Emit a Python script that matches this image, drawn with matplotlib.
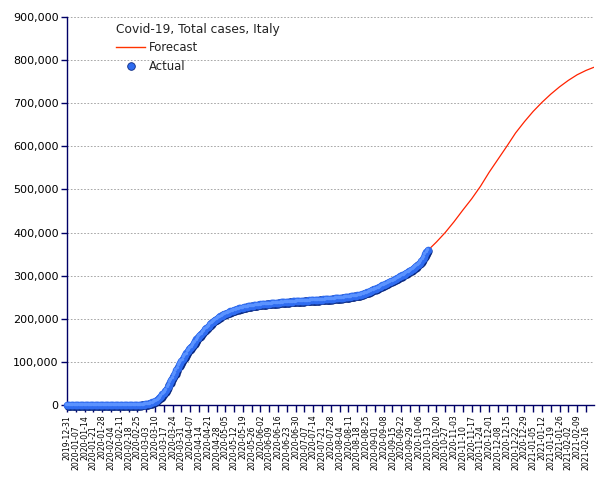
import matplotlib
matplotlib.use("Agg")
import matplotlib.pyplot as plt
import matplotlib.transforms as mtransforms
from matplotlib.lines import Line2D
from matplotlib.ticker import FuncFormatter, FixedLocator
import matplotlib.dates as mdates
import numpy as np
import pandas as pd

# daily cumulative cases, starting 2019-12-31
actual_start = "2019-12-31"
actual_dec_feb = [0, 0, 0, 0, 0, 0, 0, 0, 0, 0, 0, 0, 0, 0, 0, 0, 0, 0, 0, 0, 0, 0, 0, 0, 0, 0, 0, 0, 0, 0, 0,
                  2, 2, 2, 2, 2, 2, 2,
                  3, 3, 3, 3, 3, 3, 3, 3, 3, 3, 3, 3, 3, 3, 3,
                  20, 79, 157, 229, 322, 400, 650, 888]
actual_mar = [1128, 1694, 2036, 2502, 3089, 3858, 4636, 5883, 7375, 9172, 10149, 12462, 15113, 17660, 21157,
              24747, 27980, 31506, 35713, 41035, 47021, 53578, 59138, 63927, 69176, 74386, 80539, 86498,
              92472, 97689, 101739]
actual_apr = [105792, 110574, 115242, 119827, 124632, 128948, 132547, 135586, 139422, 143626, 147577, 152271,
              156363, 159516, 162488, 165155, 168941, 172434, 175925, 178972, 181228, 183957, 187327, 189973,
              192994, 195351, 197675, 199414, 201505, 203591]
actual_may = [205463, 207428, 209328, 210717, 211938, 213013, 214457, 215858, 217185, 218268, 219070, 219814,
              221216, 222104, 223096, 223885, 224760, 225435, 225886, 226699, 227364, 228006, 228658, 229327,
              229858, 230158, 230555, 231139, 231732, 232248, 232664]
actual_jun = [233019, 233197, 233515, 233836, 234013, 234531, 234801, 234998, 235278, 235561, 235763, 236142,
              236305, 236651, 236989, 237290, 237500, 237828, 238159, 238011, 238275, 238499, 238720, 238833,
              239410, 239706, 239961, 240136, 240310, 240436]
actual_jul = [240578, 240760, 240961, 241184, 241419, 241611, 241819, 241956, 242149, 242363, 242639, 242827,
              243061, 243230, 243344, 243506, 243736, 243967, 244216, 244434, 244624, 244752, 245032, 245338,
              245590, 245864, 246118, 246286, 246488, 246776, 247158]
actual_aug = [247537, 247832, 248070, 248229, 248419, 248803, 249204, 249756, 250103, 250566, 250825, 251237,
              251713, 252235, 252809, 253438, 253915, 254235, 254636, 255278, 256118, 257065, 258136, 259345,
              260298, 261174, 262540, 263949, 265409, 267272, 268218]
actual_sep = [269214, 270189, 271515, 272912, 274644, 276338, 277634, 278784, 280153, 281583, 283180, 284796,
              286297, 287753, 288761, 289990, 291442, 293025, 294932, 296569, 298156, 299506, 300897, 302537,
              304323, 306235, 308104, 309870, 311364, 313011]
actual_oct = [314861, 317409, 319908, 322751, 325329, 327586, 330263, 333940, 338398, 343770, 349494, 354950,
              359569]

actual = (actual_dec_feb + actual_mar + actual_apr + actual_may + actual_jun + actual_jul
          + actual_aug + actual_sep + actual_oct)

# weekly forecast values
forecast_dates = ["2019-12-31", "2020-01-07", "2020-01-14", "2020-01-21", "2020-01-28", "2020-02-04",
                  "2020-02-11", "2020-02-18", "2020-02-25", "2020-03-03", "2020-03-10", "2020-03-17",
                  "2020-03-24", "2020-03-31", "2020-04-07", "2020-04-14", "2020-04-21", "2020-04-28",
                  "2020-05-05", "2020-05-12", "2020-05-19", "2020-05-26", "2020-06-02", "2020-06-09",
                  "2020-06-16", "2020-06-23", "2020-06-30", "2020-07-07", "2020-07-14", "2020-07-21",
                  "2020-07-28", "2020-08-04", "2020-08-11", "2020-08-18", "2020-08-25", "2020-09-01",
                  "2020-09-08", "2020-09-15", "2020-09-22", "2020-09-29", "2020-10-06", "2020-10-13",
                  "2020-10-20", "2020-10-27", "2020-11-03", "2020-11-10", "2020-11-17", "2020-11-24",
                  "2020-12-01", "2020-12-08", "2020-12-15", "2020-12-22", "2020-12-29", "2021-01-05",
                  "2021-01-12", "2021-01-19", "2021-01-26", "2021-02-02", "2021-02-09", "2021-02-16",
                  "2021-02-22"]
forecast_vals = [0, 0, 0, 0, 0, 0, 0, 0, 1000, 4000, 12000, 33000, 68000, 103000, 136000, 162000, 182000,
                 199000, 211000, 219000, 225000, 229000, 232000, 234500, 236500, 238500, 240500, 242000,
                 243500, 245000, 246500, 248500, 251000, 254500, 260000, 269000, 279000, 289000, 300000,
                 312000, 327000, 358000, 378000, 400000, 425000, 452000, 478000, 507000, 540000, 570000,
                 600000, 631000, 657000, 681000, 702000, 721000, 738000, 753000, 766000, 776000, 783000]

tick_dates = pd.date_range("2019-12-31", "2021-02-16", freq="7D")

actual_dates = pd.date_range(actual_start, periods=len(actual), freq="D")
fc_dates = pd.to_datetime(forecast_dates)

navy = "#000066"
blue = "#2f6cf0"
dark = "#0c2a80"

fig = plt.figure(figsize=(6.05, 4.8), dpi=100)
ax = fig.add_axes([0.1107, 0.15625, 0.8711, 0.80835])

ax.plot(fc_dates, forecast_vals, color="#ff2200", lw=0.9, zorder=2)

# shaded "sphere" markers: dark base slightly down-right, blue body, light highlight
shade = mtransforms.offset_copy(ax.transData, fig=fig, x=0.5, y=-0.5, units="points")
light = mtransforms.offset_copy(ax.transData, fig=fig, x=-0.6, y=0.6, units="points")
ax.scatter(actual_dates, actual, s=36, color=dark, lw=0, transform=shade, zorder=3, clip_on=False)
ax.scatter(actual_dates, actual, s=30, color=blue, lw=0, zorder=4, clip_on=False)
ax.scatter(actual_dates, actual, s=6, color="#5b93ff", lw=0, transform=light, zorder=5, clip_on=False)

ax.set_ylim(0, 900000)
ax.set_xlim(pd.Timestamp("2019-12-31"), pd.Timestamp("2019-12-31") + pd.Timedelta(days=419.4))

ax.yaxis.set_major_locator(FixedLocator(np.arange(0, 900001, 100000)))
ax.yaxis.set_major_formatter(FuncFormatter(lambda v, p: f"{int(v):,}"))
ax.grid(axis="y", color="#999999", ls=(0, (2, 2)), lw=0.6)
ax.set_axisbelow(True)

tick_nums = mdates.date2num(tick_dates)
ax.xaxis.set_major_locator(FixedLocator(tick_nums[0::2]))
ax.xaxis.set_minor_locator(FixedLocator(tick_nums[1::2]))
ax.xaxis.set_major_formatter(FuncFormatter(lambda v, p: mdates.num2date(v).strftime("%Y-%m-%d")))
ax.xaxis.set_minor_formatter(FuncFormatter(lambda v, p: mdates.num2date(v).strftime("%Y-%m-%d")))
ax.tick_params(axis="x", which="major", length=5, width=1, color=navy, pad=2, labelsize=5.6, labelrotation=90)
ax.tick_params(axis="x", which="minor", length=5, width=1, color=navy, pad=9.5, labelsize=5.6, labelrotation=90)
ax.tick_params(axis="y", length=4, width=1, color=navy, pad=2, labelsize=8)

for s in ["top", "right"]:
    ax.spines[s].set_visible(False)
for s in ["left", "bottom"]:
    ax.spines[s].set_color(navy)
    ax.spines[s].set_linewidth(1)

handles = [Line2D([], [], color="#ff3300", lw=1),
           Line2D([], [], ls="none", marker="o", ms=5.5, mfc=blue, mec=dark, mew=0.6)]
leg = ax.legend(handles, ["Forecast", "Actual"], title="Covid-19, Total cases, Italy",
                loc="upper left", bbox_to_anchor=(0.093, 0.985), frameon=False, borderpad=0,
                borderaxespad=0, fontsize=8.4, title_fontsize=8.8, handlelength=2.5,
                handletextpad=0.35, labelspacing=0.45)
leg._legend_box.align = "left"
leg._legend_box.sep = 4
for t in leg.get_texts():
    t.set_color("#222222")
leg.get_title().set_color("#222222")

fig.savefig("out.png", dpi=100)
